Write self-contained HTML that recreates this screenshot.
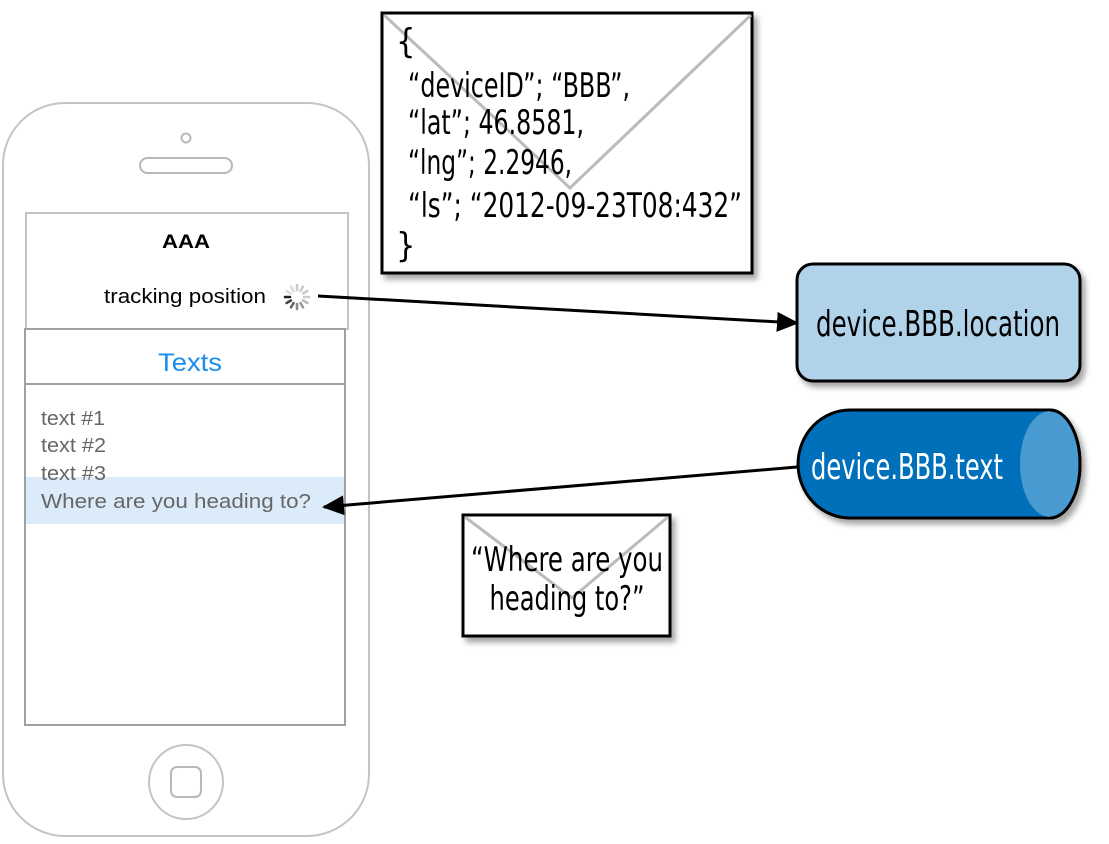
<!DOCTYPE html>
<html><head><meta charset="utf-8"><style>
html,body{margin:0;padding:0;background:#fff;}
svg{display:block}
.c{font-family:"DejaVu Sans Condensed","Liberation Sans Narrow","Liberation Sans",sans-serif;}
</style></head><body>
<svg width="1109" height="844" viewBox="0 0 1109 844" xmlns="http://www.w3.org/2000/svg">
<defs>
<filter id="sh" x="-10%" y="-10%" width="130%" height="130%"><feDropShadow dx="4" dy="5" stdDeviation="3" flood-color="#000" flood-opacity="0.35"/></filter>
<marker id="ah" markerWidth="22" markerHeight="20" refX="20" refY="10" orient="auto" markerUnits="userSpaceOnUse" viewBox="0 0 22 20"><path d="M0,0 L22,10 L0,20 z" fill="#000"/></marker>
</defs>
<!-- phone -->
<rect x="3" y="103" width="366" height="733" rx="62" fill="#fff" stroke="#c4c4c4" stroke-width="2"/>
<circle cx="186" cy="138" r="4.5" fill="none" stroke="#b8b8b8" stroke-width="2"/>
<rect x="140" y="158" width="92" height="15" rx="7.5" fill="none" stroke="#b8b8b8" stroke-width="2"/>
<rect x="26" y="213" width="322" height="116" fill="#fff" stroke="#c4c4c4" stroke-width="2"/>
<text x="186" y="248" font-family="Liberation Sans,sans-serif" font-weight="bold" font-size="19" text-anchor="middle" textLength="48" lengthAdjust="spacingAndGlyphs">AAA</text>
<text x="104" y="303" font-family="Liberation Sans,sans-serif" font-size="20" textLength="162" lengthAdjust="spacingAndGlyphs">tracking position</text>
<g transform="translate(297,297)" stroke-width="2.6" stroke-linecap="round">
<line x1="0" y1="-7" x2="0" y2="-12" stroke="#ccc" transform="rotate(0)"/>
<line x1="0" y1="-7" x2="0" y2="-12" stroke="#ccc" transform="rotate(30)"/>
<line x1="0" y1="-7" x2="0" y2="-12" stroke="#ccc" transform="rotate(60)"/>
<line x1="0" y1="-7" x2="0" y2="-12" stroke="#ccc" transform="rotate(90)"/>
<line x1="0" y1="-7" x2="0" y2="-12" stroke="#bbb" transform="rotate(120)"/>
<line x1="0" y1="-7" x2="0" y2="-12" stroke="#999" transform="rotate(150)"/>
<line x1="0" y1="-7" x2="0" y2="-12" stroke="#888" transform="rotate(180)"/>
<line x1="0" y1="-7" x2="0" y2="-12" stroke="#666" transform="rotate(210)"/>
<line x1="0" y1="-7" x2="0" y2="-12" stroke="#444" transform="rotate(240)"/>
<line x1="0" y1="-7" x2="0" y2="-12" stroke="#222" transform="rotate(270)"/>
<line x1="0" y1="-7" x2="0" y2="-12" stroke="#ddd" transform="rotate(300)"/>
<line x1="0" y1="-7" x2="0" y2="-12" stroke="#ddd" transform="rotate(330)"/>
</g>
<rect x="25" y="329" width="320" height="396" fill="#fff" stroke="#a0a0a0" stroke-width="2"/>
<line x1="25" y1="384" x2="345" y2="384" stroke="#a0a0a0" stroke-width="2"/>
<text x="190" y="371" font-family="Liberation Sans,sans-serif" font-size="25" fill="#1a8cf0" text-anchor="middle" textLength="64" lengthAdjust="spacingAndGlyphs">Texts</text>
<rect x="26" y="477" width="318" height="47" fill="#dcebfa"/>
<g font-family="Liberation Sans,sans-serif" font-size="20" fill="#666">
<text x="41" y="425" textLength="64" lengthAdjust="spacingAndGlyphs">text #1</text>
<text x="41" y="452" textLength="65" lengthAdjust="spacingAndGlyphs">text #2</text>
<text x="41" y="480" textLength="65" lengthAdjust="spacingAndGlyphs">text #3</text>
<text x="41" y="508" textLength="270" lengthAdjust="spacingAndGlyphs">Where are you heading to?</text>
</g>
<circle cx="186" cy="782" r="37" fill="none" stroke="#c4c4c4" stroke-width="2"/>
<rect x="171" y="767" width="30" height="30" rx="6" fill="none" stroke="#b8b8b8" stroke-width="2"/>
<!-- envelope big -->
<rect x="382" y="13" width="370" height="260" fill="#fff" stroke="#000" stroke-width="3" filter="url(#sh)"/>
<polyline points="384,15 570,188 751,15" fill="none" stroke="#bbb" stroke-width="3"/>
<g class="c" font-size="34" fill="#000">
<text x="396" y="53">{</text>
<text x="408" y="97" textLength="222" lengthAdjust="spacingAndGlyphs">“deviceID”; “BBB”,</text>
<text x="408" y="134" textLength="176" lengthAdjust="spacingAndGlyphs">“lat”; 46.8581,</text>
<text x="408" y="174" textLength="164" lengthAdjust="spacingAndGlyphs">“lng”; 2.2946,</text>
<text x="408" y="217" textLength="334" lengthAdjust="spacingAndGlyphs">“ls”; “2012-09-23T08:432”</text>
<text x="396" y="257">}</text>
</g>
<!-- location box -->
<rect x="797" y="264" width="283" height="117" rx="16" fill="#b0d3ea" stroke="#000" stroke-width="3" filter="url(#sh)"/>
<text class="c" x="938" y="336" font-size="36" text-anchor="middle" textLength="244" lengthAdjust="spacingAndGlyphs">device.BBB.location</text>
<!-- cylinder -->
<g filter="url(#sh)">
<path d="M850,410 L1050,410 A30,54 0 0 1 1050,518 L850,518 A52,54 0 0 1 850,410 z" fill="#0070bb" stroke="#000" stroke-width="3"/>
<ellipse cx="1050" cy="464" rx="30" ry="53" fill="#4a9ad0"/>
<path d="M1050,410 A30,54 0 0 1 1050,518" fill="none" stroke="#000" stroke-width="3"/>
</g>
<text class="c" x="811" y="479" font-size="36" fill="#fff" textLength="192" lengthAdjust="spacingAndGlyphs">device.BBB.text</text>
<!-- small envelope -->
<rect x="463" y="515" width="207" height="121" fill="#fff" stroke="#000" stroke-width="3" filter="url(#sh)"/>
<polyline points="465,517 572,598 668,517" fill="none" stroke="#bbb" stroke-width="3"/>
<g class="c" font-size="34" text-anchor="middle">
<text x="567" y="571" textLength="192" lengthAdjust="spacingAndGlyphs">“Where are you</text>
<text x="567" y="610" textLength="155" lengthAdjust="spacingAndGlyphs">heading to?”</text>
</g>
<!-- arrows -->
<line x1="318" y1="296" x2="797" y2="323" stroke="#000" stroke-width="3" marker-end="url(#ah)"/>
<line x1="797" y1="467" x2="324" y2="507" stroke="#000" stroke-width="3" marker-end="url(#ah)"/>
</svg>
</body></html>
